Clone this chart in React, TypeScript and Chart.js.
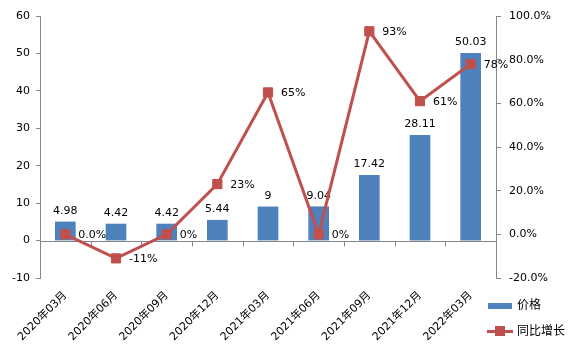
import React, { useEffect, useRef } from "react";
import { Chart, registerables } from "chart.js";

Chart.register(...registerables);

const categories = [
  "2020年03月",
  "2020年06月",
  "2020年09月",
  "2020年12月",
  "2021年03月",
  "2021年06月",
  "2021年09月",
  "2021年12月",
  "2022年03月",
];
const prices = [4.98, 4.42, 4.42, 5.44, 9, 9.04, 17.42, 28.11, 50.03];
const growth = [0, -11, 0, 23, 65, 0, 93, 61, 78];
const growthLabels = ["0.0%", "-11%", "0%", "23%", "65%", "0%", "93%", "61%", "78%"];
const seriesNames = ["价格", "同比增长"];

const FONT = '"DejaVu Sans", "Noto Sans CJK SC", sans-serif';
const BLUE = "#4F81BD";
const RED = "#C0504D";
const AXIS = "#868686";

const zeroLinePlugin = {
  id: "zeroLine",
  beforeDatasetsDraw(chart: any) {
    const { ctx, chartArea } = chart;
    const y = chart.scales.y.getPixelForValue(0);
    const xs = chart.scales.x;
    const n = categories.length;
    ctx.save();
    ctx.strokeStyle = AXIS;
    ctx.lineWidth = 1;
    ctx.beginPath();
    ctx.moveTo(chartArea.left, Math.round(y) + 0.5);
    ctx.lineTo(chartArea.right, Math.round(y) + 0.5);
    for (let i = 0; i <= n; i++) {
      const px = Math.round(xs.getPixelForDecimal(i / n)) + 0.5;
      ctx.moveTo(px, Math.round(y) + 0.5);
      ctx.lineTo(px, Math.round(y) + 5.5);
    }
    ctx.stroke();
    ctx.restore();
  },
};

const labelPlugin = {
  id: "valueLabels",
  afterDatasetDraw(chart: any, args: any) {
    const ctx = chart.ctx;
    const meta = chart.getDatasetMeta(args.index);
    ctx.save();
    ctx.font = `11px ${FONT}`;
    ctx.fillStyle = "#000";
    if (meta.type === "bar") {
      ctx.textAlign = "center";
      ctx.textBaseline = "alphabetic";
      meta.data.forEach((el: any, i: number) => {
        ctx.fillText(String(prices[i]), el.x, el.y - 8);
      });
    } else {
      ctx.textAlign = "left";
      ctx.textBaseline = "middle";
      meta.data.forEach((el: any, i: number) => {
        ctx.fillText(growthLabels[i], el.x + 13, el.y + 1);
      });
    }
    ctx.restore();
  },
};

export default function App() {
  const ref = useRef<HTMLCanvasElement | null>(null);

  useEffect(() => {
    if (!ref.current) return;
    Chart.defaults.font.family = FONT;
    const chart = new Chart(ref.current, {
      type: "bar",
      data: {
        labels: categories,
        datasets: [
          {
            type: "line",
            label: seriesNames[1],
            data: growth,
            yAxisID: "y1",
            borderColor: RED,
            backgroundColor: RED,
            borderWidth: 3,
            pointStyle: "rect",
            pointRadius: 6.5,
            pointBackgroundColor: RED,
            pointBorderColor: RED,
            pointBorderWidth: 1,
            order: 0,
          } as any,
          {
            type: "bar",
            label: seriesNames[0],
            data: prices,
            yAxisID: "y",
            backgroundColor: BLUE,
            barThickness: 20,
            order: 1,
          } as any,
        ],
      },
      options: {
        animation: false,
        responsive: true,
        maintainAspectRatio: false,
        layout: { padding: { top: 16, left: 0, right: 0, bottom: 0 } },
        plugins: { legend: { display: false }, tooltip: { enabled: false } },
        scales: {
          x: {
            grid: { display: false, drawTicks: false },
            border: { display: false },
            ticks: {
              color: "#000",
              font: { size: 11 },
              minRotation: 45,
              maxRotation: 45,
              autoSkip: false,
              padding: 11,
            },
            afterFit(s: any) {
              s.height = 75;
            },
          },
          y: {
            position: "left",
            min: -10,
            max: 60,
            ticks: { stepSize: 10, color: "#000", font: { size: 11 }, padding: 6 },
            grid: { drawOnChartArea: false, tickLength: 4, color: AXIS },
            border: { color: AXIS },
            afterFit(s: any) {
              s.width = 40;
            },
          },
          y1: {
            position: "right",
            min: -20,
            max: 100,
            ticks: {
              stepSize: 20,
              color: "#000",
              font: { size: 11 },
              padding: 8,
              callback: (v: any) => `${Number(v).toFixed(1)}%`,
            },
            grid: { drawOnChartArea: false, tickLength: 5, color: AXIS },
            border: { color: AXIS },
            afterFit(s: any) {
              s.width = 81;
            },
          },
        },
      },
      plugins: [zeroLinePlugin, labelPlugin],
    });
    return () => chart.destroy();
  }, []);

  const textStyle: React.CSSProperties = {
    position: "absolute",
    left: 517,
    fontFamily: FONT,
    fontSize: 12,
    color: "#000",
    lineHeight: "14px",
    whiteSpace: "nowrap",
  };

  return (
    <div style={{ position: "fixed", left: 0, top: 0, width: 577, height: 353, background: "#fff" }}>
      <canvas ref={ref} />
      <div style={{ position: "absolute", left: 488, top: 303, width: 24, height: 6, background: BLUE }} />
      <div style={{ ...textStyle, top: 298 }}>{seriesNames[0]}</div>
      <div style={{ position: "absolute", left: 487, top: 330, width: 26, height: 3, background: RED }} />
      <div style={{ position: "absolute", left: 495, top: 326, width: 10, height: 10, background: RED }} />
      <div style={{ ...textStyle, top: 324 }}>{seriesNames[1]}</div>
    </div>
  );
}
